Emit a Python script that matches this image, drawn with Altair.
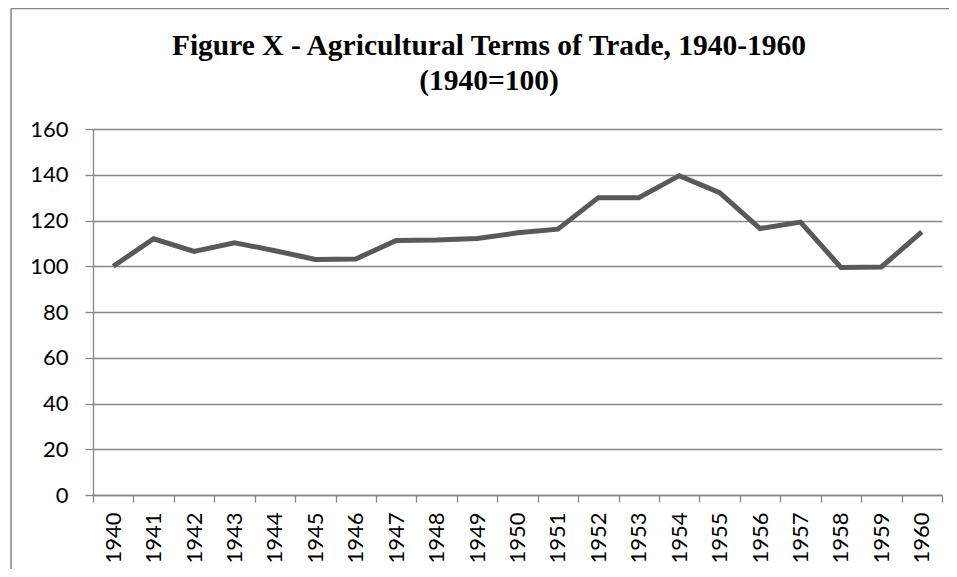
import altair as alt
import pandas as pd

# ---- data ----
years = [1940, 1941, 1942, 1943, 1944, 1945, 1946, 1947, 1948, 1949, 1950,
         1951, 1952, 1953, 1954, 1955, 1956, 1957, 1958, 1959, 1960]
index_values = [100, 112, 106.5, 110.3, 106.8, 103, 103.2, 111.3, 111.5, 112.1, 114.6,
                116.2, 130, 130, 139.6, 132.2, 116.5, 119.3, 99.5, 99.7, 115]
y_ticks = [0, 20, 40, 60, 80, 100, 120, 140, 160]
title_lines = ["Figure X - Agricultural Terms of Trade, 1940-1960", "(1940=100)"]

df = pd.DataFrame({"year": years, "value": index_values})

# category boundaries (Excel style ticks between categories)
boundaries = [y - 0.5 for y in years] + [years[-1] + 0.5]

W, H = 849, 366
band = W / len(years)

GRAY = "#868686"
LINE = "#595959"

x_enc = alt.X(
    "year:Q",
    scale=alt.Scale(domain=[boundaries[0], boundaries[-1]], nice=False, zero=False),
    axis=alt.Axis(
        values=boundaries,
        labelExpr="datum.value > 1960 ? '' : '' + (datum.value + 0.5)",
        labelOffset=band / 2,
        labelAngle=-90,
        labelFlush=False,
        labelOverlap=False,
        labelPadding=10,
        tickSize=7,
        grid=False,
        title=None,
    ),
)

y_enc = alt.Y(
    "value:Q",
    scale=alt.Scale(domain=[0, 160], nice=False),
    axis=alt.Axis(
        values=y_ticks,
        tickSize=8,
        labelPadding=17,
        grid=True,
        title=None,
    ),
)

line = alt.Chart(df).mark_line(color=LINE, strokeWidth=5, strokeJoin="miter").encode(
    x=x_enc, y=y_enc
)

# chart-area border (top and left edges visible in the reference)
frame_top = alt.Chart(alt.Data(values=[{"f": 1}])).mark_rule(
    color=GRAY, strokeWidth=1.5
).encode(x=alt.value(-82), x2=alt.value(870), y=alt.value(-120.5))

frame_left = alt.Chart(alt.Data(values=[{"f": 1}])).mark_rule(
    color=GRAY, strokeWidth=1.5
).encode(x=alt.value(-82), y=alt.value(-120.5), y2=alt.value(470))

chart = alt.layer(frame_top, frame_left, line).properties(
    width=W,
    height=H,
    background="white",
    autosize=alt.AutoSizeParams(type="none"),
    padding={"left": 85, "top": 121, "right": 7, "bottom": 74},
    title=alt.TitleParams(
        text=title_lines,
        font="Liberation Serif",
        fontSize=29.5,
        fontWeight="bold",
        color="#000000",
        lineHeight=35,
        anchor="middle",
        frame="group",
        dx=-28.5,
        offset=-89,
    ),
).configure_view(
    stroke=None
).configure_axis(
    labelFont="Lato",
    labelFontSize=22,
    labelColor="#000000",
    domainColor=GRAY,
    domainWidth=1.3,
    tickColor=GRAY,
    tickWidth=1.3,
    gridColor=GRAY,
    gridWidth=1.3,
)

chart.save("out.html", embed_options={"renderer": "svg", "actions": False})
